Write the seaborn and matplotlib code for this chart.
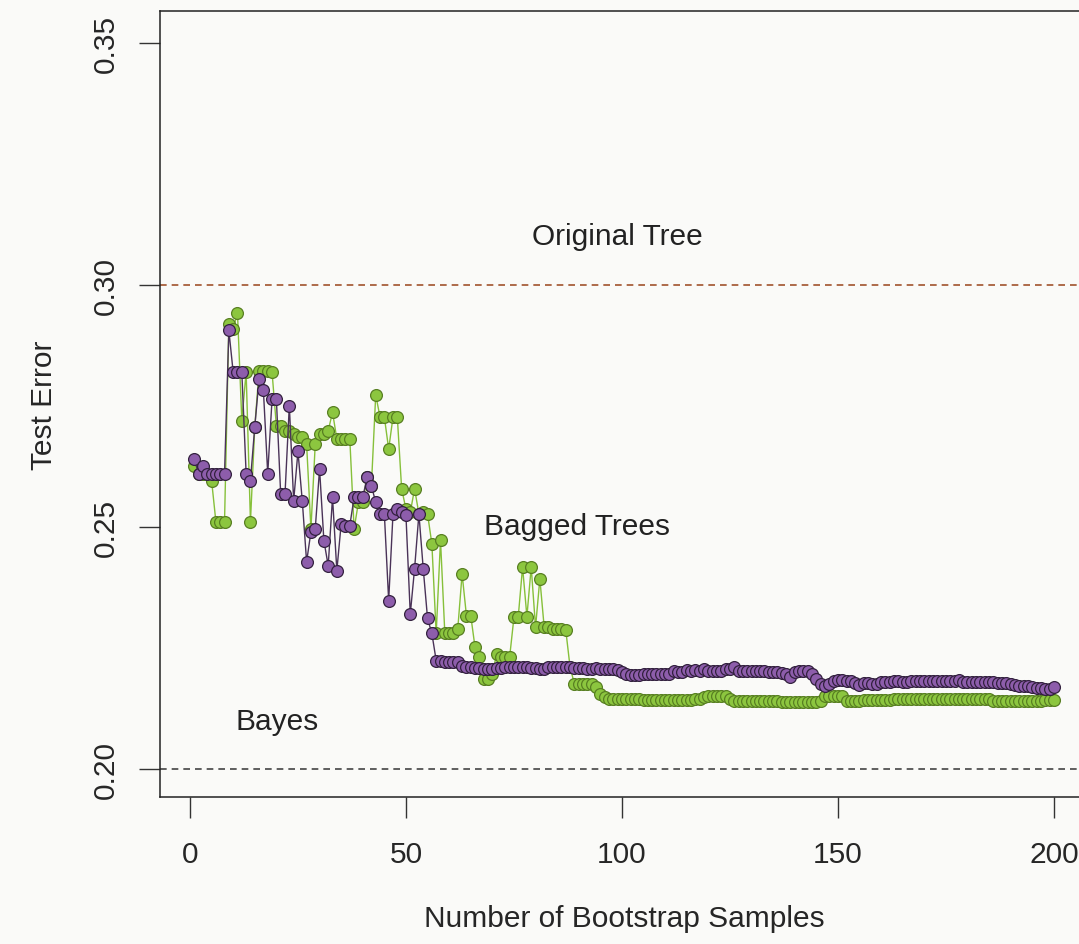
import matplotlib
matplotlib.use("Agg")
import matplotlib.pyplot as plt
import numpy as np
import pandas as pd
import seaborn as sns

# test error vs number of bootstrap samples
n_boot = list(range(1, 201))

consensus = [
    0.2640, 0.2610, 0.2625, 0.2610, 0.2610, 0.2610, 0.2610, 0.2610, 0.2906, 0.2820,
    0.2820, 0.2820, 0.2610, 0.2596, 0.2707, 0.2806, 0.2782, 0.2610, 0.2764, 0.2764,
    0.2568, 0.2568, 0.2751, 0.2554, 0.2656, 0.2554, 0.2428, 0.2490, 0.2496, 0.2620,
    0.2472, 0.2420, 0.2561, 0.2410, 0.2506, 0.2503, 0.2503, 0.2561, 0.2561, 0.2561,
    0.2603, 0.2585, 0.2551, 0.2527, 0.2527, 0.2348, 0.2527, 0.2537, 0.2530, 0.2524,
    0.2320, 0.2414, 0.2527, 0.2414, 0.2311, 0.2280, 0.2224, 0.2224, 0.2222, 0.2222,
    0.2220, 0.2220, 0.2212, 0.2210, 0.2210, 0.2208, 0.2208, 0.2207, 0.2207, 0.2207,
    0.2209, 0.2209, 0.2210, 0.2210, 0.2211, 0.2211, 0.2211, 0.2211, 0.2209, 0.2209,
    0.2206, 0.2206, 0.2211, 0.2211, 0.2211, 0.2211, 0.2211, 0.2210, 0.2208, 0.2208,
    0.2208, 0.2206, 0.2206, 0.2209, 0.2206, 0.2206, 0.2206, 0.2206, 0.2204, 0.2200,
    0.2196, 0.2194, 0.2194, 0.2194, 0.2196, 0.2196, 0.2196, 0.2196, 0.2196, 0.2196,
    0.2196, 0.2203, 0.2200, 0.2200, 0.2204, 0.2202, 0.2205, 0.2203, 0.2206, 0.2203,
    0.2203, 0.2202, 0.2202, 0.2206, 0.2206, 0.2211, 0.2203, 0.2203, 0.2203, 0.2203,
    0.2203, 0.2203, 0.2203, 0.2201, 0.2201, 0.2201, 0.2198, 0.2196, 0.2190, 0.2200,
    0.2203, 0.2203, 0.2203, 0.2196, 0.2185, 0.2175, 0.2172, 0.2175, 0.2182, 0.2184,
    0.2184, 0.2182, 0.2182, 0.2178, 0.2174, 0.2178, 0.2178, 0.2176, 0.2176, 0.2180,
    0.2180, 0.2180, 0.2182, 0.2182, 0.2180, 0.2180, 0.2182, 0.2182, 0.2182, 0.2182,
    0.2182, 0.2182, 0.2182, 0.2182, 0.2182, 0.2182, 0.2182, 0.2184, 0.2180, 0.2180,
    0.2180, 0.2180, 0.2180, 0.2180, 0.2180, 0.2180, 0.2178, 0.2178, 0.2178, 0.2176,
    0.2174, 0.2172, 0.2172, 0.2172, 0.2170, 0.2168, 0.2167, 0.2166, 0.2165, 0.2170,
]

probability = [
    0.2625, 0.2610, 0.2610, 0.2610, 0.2596, 0.2511, 0.2511, 0.2511, 0.2919, 0.2910,
    0.2942, 0.2720, 0.2820, 0.2511, 0.2707, 0.2823, 0.2823, 0.2823, 0.2820, 0.2709,
    0.2709, 0.2699, 0.2699, 0.2692, 0.2685, 0.2685, 0.2671, 0.2496, 0.2671, 0.2692,
    0.2692, 0.2699, 0.2737, 0.2682, 0.2682, 0.2682, 0.2682, 0.2496, 0.2551, 0.2551,
    0.2603, 0.2585, 0.2773, 0.2727, 0.2727, 0.2661, 0.2727, 0.2727, 0.2579, 0.2537,
    0.2530, 0.2579, 0.2527, 0.2530, 0.2527, 0.2465, 0.2280, 0.2473, 0.2280, 0.2280,
    0.2280, 0.2290, 0.2403, 0.2317, 0.2317, 0.2251, 0.2231, 0.2186, 0.2186, 0.2196,
    0.2238, 0.2231, 0.2231, 0.2231, 0.2313, 0.2315, 0.2417, 0.2315, 0.2417, 0.2293,
    0.2393, 0.2293, 0.2293, 0.2290, 0.2290, 0.2290, 0.2287, 0.2210, 0.2176, 0.2176,
    0.2176, 0.2176, 0.2176, 0.2170, 0.2155, 0.2148, 0.2145, 0.2145, 0.2145, 0.2145,
    0.2145, 0.2145, 0.2145, 0.2145, 0.2143, 0.2143, 0.2143, 0.2143, 0.2143, 0.2143,
    0.2143, 0.2143, 0.2143, 0.2143, 0.2143, 0.2143, 0.2145, 0.2145, 0.2148, 0.2151,
    0.2151, 0.2151, 0.2151, 0.2151, 0.2145, 0.2141, 0.2141, 0.2141, 0.2141, 0.2141,
    0.2141, 0.2141, 0.2141, 0.2141, 0.2141, 0.2141, 0.2138, 0.2138, 0.2138, 0.2138,
    0.2138, 0.2138, 0.2138, 0.2138, 0.2138, 0.2141, 0.2151, 0.2151, 0.2151, 0.2151,
    0.2151, 0.2141, 0.2141, 0.2141, 0.2141, 0.2143, 0.2143, 0.2143, 0.2143, 0.2143,
    0.2143, 0.2143, 0.2145, 0.2145, 0.2145, 0.2145, 0.2145, 0.2145, 0.2145, 0.2145,
    0.2145, 0.2145, 0.2145, 0.2145, 0.2145, 0.2145, 0.2145, 0.2145, 0.2145, 0.2145,
    0.2145, 0.2145, 0.2145, 0.2145, 0.2145, 0.2141, 0.2141, 0.2141, 0.2141, 0.2141,
    0.2141, 0.2141, 0.2141, 0.2141, 0.2141, 0.2141, 0.2141, 0.2143, 0.2143, 0.2143,
]

original_tree = 0.30
bayes = 0.20

x_ticks = [0, 50, 100, 150, 200]
y_ticks = [0.20, 0.25, 0.30, 0.35]

df = pd.DataFrame({"B": n_boot, "consensus": consensus, "probability": probability})

sns.set_style("white")
plt.rcParams["font.family"] = ["Liberation Sans", "DejaVu Sans"]

fig = plt.figure(figsize=(10.79, 9.45), dpi=100, facecolor="#fafaf8")
ax = fig.add_axes([160 / 1079, 147 / 945, 928 / 1079, 786 / 945])
ax.set_facecolor("#fafaf8")

# green series underneath, purple on top
sns.lineplot(data=df, x="B", y="probability", ax=ax, color="#86c03a", lw=1.0,
             marker="o", markersize=8.5, markerfacecolor="#8cc63f",
             markeredgecolor="#587f22", markeredgewidth=0.9)
sns.lineplot(data=df, x="B", y="consensus", ax=ax, color="#4a3358", lw=1.0,
             marker="o", markersize=8.5, markerfacecolor="#8d5dab",
             markeredgecolor="#33213f", markeredgewidth=0.9)

ax.axhline(original_tree, color="#a0522d", ls=(0, (4, 3)), lw=1.2, zorder=1)
ax.axhline(bayes, color="#444444", ls=(0, (4, 3)), lw=1.2, zorder=1)

ax.text(99, 0.3101, "Original Tree", fontsize=21.5, ha="center", va="center", color="#222222")
ax.text(89.6, 0.2502, "Bagged Trees", fontsize=21.5, ha="center", va="center", color="#222222")
ax.text(20.1, 0.2099, "Bayes", fontsize=21.5, ha="center", va="center", color="#222222")

ax.set_xlim(-6.94, 207.9)
ax.set_ylim(0.19421, 0.35661)
ax.set_xticks(x_ticks)
ax.set_yticks(y_ticks)
ax.set_yticklabels([f"{v:.2f}" for v in y_ticks], rotation=90, va="center")
ax.tick_params(axis="both", direction="out", length=15, width=1.0, color="#333333",
               labelsize=21.5, pad=14, left=True, bottom=True)
ax.tick_params(axis="x", pad=16)

for side in ["left", "bottom", "top", "right"]:
    ax.spines[side].set_color("#222222")
    ax.spines[side].set_linewidth(1.1)

ax.set_xlabel("Number of Bootstrap Samples", fontsize=21.5, labelpad=26)
ax.set_ylabel("Test Error", fontsize=21.5, labelpad=24)

fig.savefig("out.png", dpi=100, facecolor=fig.get_facecolor())
